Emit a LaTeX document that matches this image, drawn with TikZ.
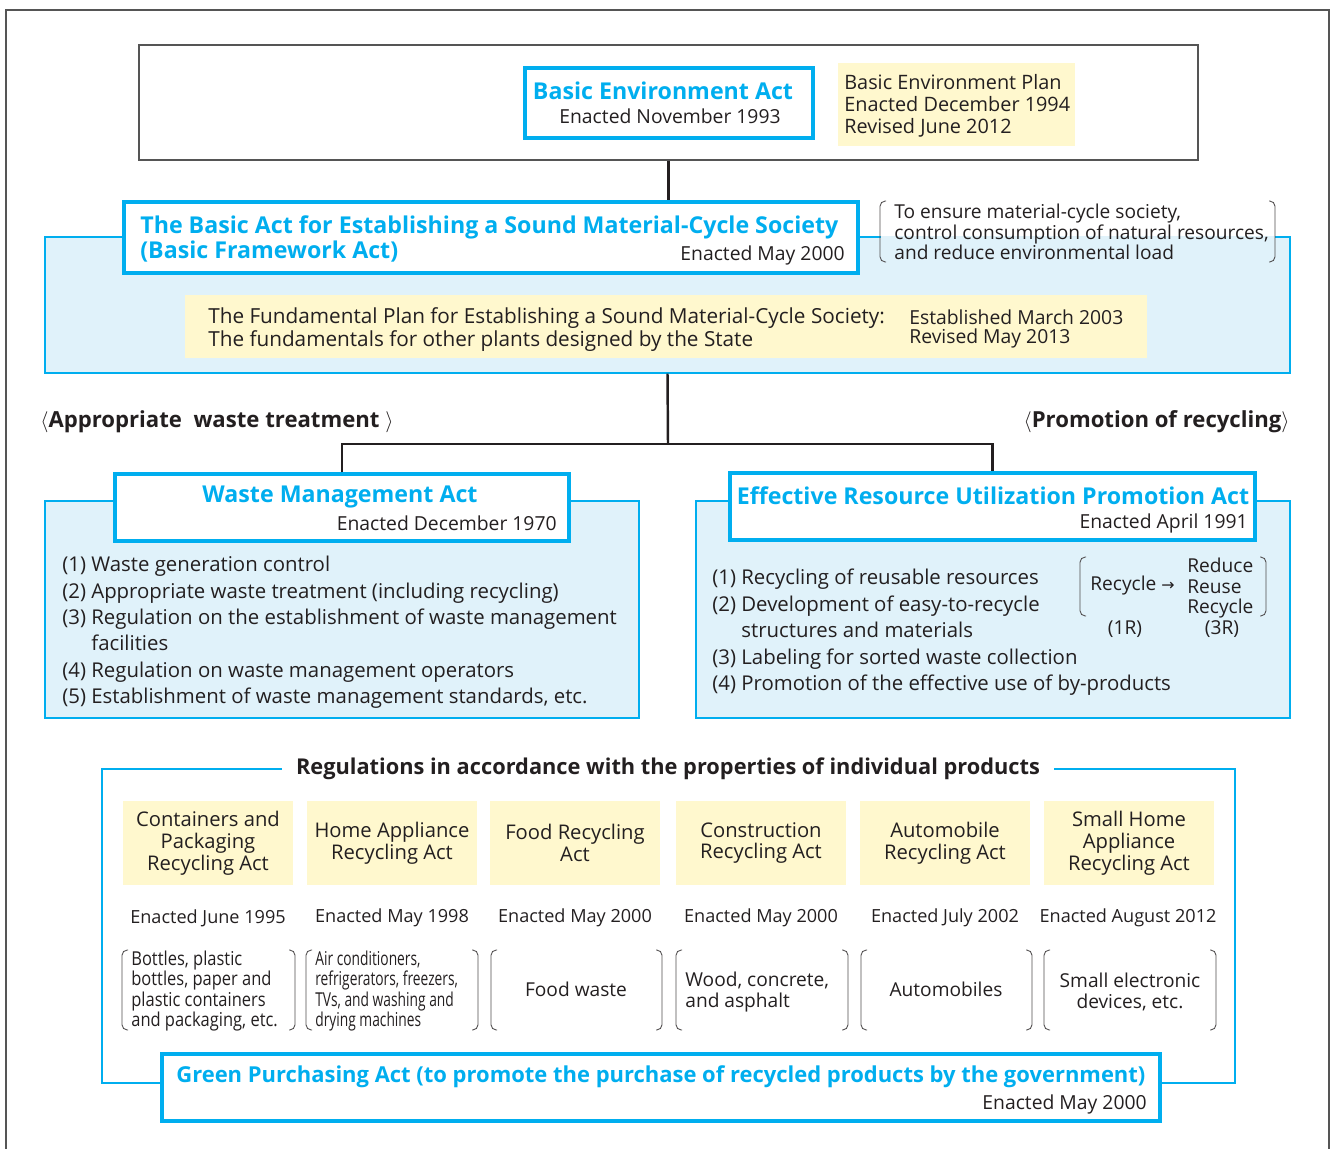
\documentclass[tikz,border=0pt]{standalone}
\usepackage{fontspec}
\setmainfont{Open Sans}
\newfontfamily\narrowa[FakeStretch=0.86]{Open Sans}
\newfontfamily\narrowb[FakeStretch=0.72]{Open Sans}
\newfontfamily\symfont{DejaVu Sans}
\usetikzlibrary{positioning,fit}
\definecolor{actcyan}{RGB}{0,174,239}
\definecolor{paleblue}{RGB}{224,242,250}
\definecolor{paleyellow}{RGB}{255,248,206}
\definecolor{inkblack}{RGB}{35,31,32}
\definecolor{framegrey}{RGB}{85,85,85}
\newcommand{\bodyfont}{\fontsize{11.6}{15}\selectfont}
\newcommand{\notefont}{\fontsize{10.9}{11.6}\selectfont}
\newcommand{\parens}[4]{%
  \draw[bracketline] (#1+6,#2) -- (#1,#2) -- (#1,#4) -- (#1+6,#4);
  \draw[bracketline] (#3-6,#2) -- (#3,#2) -- (#3,#4) -- (#3-6,#4);}
\tikzset{
  actbox/.style={draw=actcyan, line width=1.8pt, fill=white, inner sep=0pt},
  regionbox/.style={draw=actcyan, line width=0.6pt, fill=paleblue, inner sep=0pt},
  planbox/.style={fill=paleyellow, inner sep=0pt},
  acttitle/.style={text=actcyan, font=\fontsize{13.2}{14}\selectfont\bfseries, inner sep=0pt},
  plain/.style={text=inkblack, font=\bodyfont, inner sep=0pt, align=left},
  datefont/.style={text=inkblack, font=\fontsize{10.3}{12}\selectfont, inner sep=0pt},
  heading/.style={text=inkblack, font=\fontsize{12.6}{14}\selectfont\bfseries, inner sep=0pt},
  lawname/.style={text=inkblack, font=\fontsize{11.5}{12.5}\selectfont, inner sep=0pt, align=center},
  link/.style={draw=inkblack, line width=1.4pt},
  regline/.style={draw=actcyan, line width=0.6pt},
  bracketline/.style={draw=inkblack!80, line width=0.5pt, rounded corners=3pt},
}
\begin{document}
\begin{tikzpicture}[x=0.02cm, y=-0.02cm]
\useasboundingbox (0,0) rectangle (1335,1149);
\draw[framegrey, line width=0.7pt] (6,1149) -- (6,10) -- (1329,10) -- (1329,1149);

% basic environment act
\node[draw=framegrey, line width=0.7pt, inner sep=0pt, fit={(139,45) (1198,160)}] (envframe) {};
\node[actbox, fit={(525,68) (813,138)}] (envact) {};
\node[acttitle] (envacttitle) at (663,91) {Basic Environment Act};
\node[plain, font=\fontsize{11}{13}\selectfont] (envactdate) at (670,116) {Enacted November 1993};
\node[planbox, fit={(838,63) (1075,146)}] (envplan) {};
\node[plain, anchor=north west, font=\fontsize{11.3}{12.5}\selectfont] (envplantext) at (844,74)
  {Basic Environment Plan\\Enacted December 1994\\Revised June 2012};

% material-cycle society
\node[regionbox, fit={(45,237) (1290,373)}] (cyclereg) {};
\node[actbox, fit={(124,202) (858,273)}] (basicact) {};
\draw[link] (envframe.south) -- (envframe.south |- basicact.north);
\node[acttitle, anchor=west] (basictitle) at (140,227) {The Basic Act for Establishing a Sound Material-Cycle Society};
\node[acttitle, anchor=west] (basicsub) at (140,252) {(Basic Framework Act)};
\node[plain, anchor=east, font=\fontsize{11}{13}\selectfont] (basicdate) at (845,255) {Enacted May 2000};
\fill[paleblue] (880.5,236) rectangle (1274.5,238.5);
\parens{880}{201}{1275}{262}
\node[plain, anchor=north west, font=\notefont] (basicaim) at (894,204)
  {To ensure material-cycle society,\\control consumption of natural resources,\\and reduce environmental load};
\node[planbox, fit={(185,295) (1147,358)}] (fundplan) {};
\node[plain, anchor=west, font=\fontsize{11.8}{14}\selectfont] (fundtitle) at (208,318) {The Fundamental Plan for Establishing a Sound Material-Cycle Society:};
\node[plain, anchor=west, font=\fontsize{11.8}{14}\selectfont] (fundsub) at (208,341) {The fundamentals for other plants designed by the State};
\node[plain, anchor=west, font=\fontsize{11}{13}\selectfont] (fundest) at (909,317) {Established March 2003};
\node[plain, anchor=west, font=\fontsize{11}{13}\selectfont] (fundrev) at (909,338) {Revised May 2013};

% two branches
\node[heading, anchor=west] (lefthead) at (40,422) {$\langle$Appropriate\ \ waste treatment $\rangle$};
\node[heading, anchor=east] (righthead) at (1290,422) {$\langle$Promotion of recycling$\rangle$};
\coordinate (fork) at (668,444);

\node[regionbox, fit={(45,501) (639,718)}] (wastereg) {};
\node[actbox, fit={(115,474) (569,541)}] (wasteact) {};
\node[acttitle] (wastetitle) at (340,497) {Waste Management Act};
\node[plain, anchor=east, font=\fontsize{11}{13}\selectfont] (wastedate) at (557,523) {Enacted December 1970};
\node[plain, anchor=north west] (wastelist) at (62,556)
  {(1) Waste generation control\\
   (2) Appropriate waste treatment (including recycling)\\
   (3) Regulation on the establishment of waste management\\
   \phantom{(3) }facilities\\
   (4) Regulation on waste management operators\\
   (5) Establishment of waste management standards, etc.};

\node[regionbox, fit={(696,501) (1290,718)}] (recyreg) {};
\node[actbox, fit={(730,473) (1255,540)}] (recyact) {};
\node[acttitle] (recytitle) at (993,496) {Effective Resource Utilization Promotion Act};
\node[plain, anchor=east, font=\fontsize{11}{13}\selectfont] (recydate) at (1248,523) {Enacted April 1991};
\node[plain, anchor=north west] (recylist) at (712,569)
  {(1) Recycling of reusable resources\\
   (2) Development of easy-to-recycle\\
   \phantom{(2) }structures and materials\\
   (3) Labeling for sorted waste collection\\
   (4) Promotion of the effective use of by-products};
\parens{1080}{557}{1266}{616}
\node[plain, anchor=west, font=\notefont] (onerule) at (1090,586) {Recycle {\symfont\fontsize{9}{10}\selectfont →}};
\node[plain, anchor=north west, font=\notefont] (threerule) at (1187,558) {Reduce\\Reuse\\Recycle};
\node[plain, font=\notefont] (onetag) at (1125,629) {(1R)};
\node[plain, font=\notefont] (threetag) at (1222,629) {(3R)};

\draw[link] (cyclereg.south) -- (fork);
\draw[link] (wasteact.north) |- (fork) -| (recyact.north);

% individual products
\node[heading, inner xsep=8pt, font=\fontsize{12.4}{14}\selectfont\bfseries] (regtitle) at (668,769) {Regulations in accordance with the properties of individual products};
\node[actbox, line width=2pt, fit={(162,1054) (1160,1121)}] (greenact) {};
\draw[regline] (regtitle.west) -| (102,1083) -- (greenact.west |- 0,1083);
\draw[regline] (regtitle.east) -| (1235,1083) -- (greenact.east |- 0,1083);

\node[planbox, fit={(123,801) (293,885)}] (contbox) {};
\node[lawname] (contname) at (contbox) {Containers and\\Packaging\\Recycling Act};
\node[datefont] (contdate) at (208,918) {Enacted June 1995};
\parens{122}{950}{295}{1030}
\node[plain, anchor=west, font=\narrowa\notefont] (contitems) at (131,991)
  {Bottles, plastic\\bottles, paper and\\plastic containers\\and packaging, etc.};

\node[planbox, fit={(307,801) (477,885)}] (homebox) {};
\node[lawname] (homename) at (homebox) {Home Appliance\\Recycling Act};
\node[datefont] (homedate) at (392,918) {Enacted May 1998};
\parens{306}{950}{478}{1030}
\node[plain, anchor=west, font=\narrowb\notefont] (homeitems) at (315,991)
  {Air conditioners,\\refrigerators, freezers,\\TVs, and washing and\\drying machines};

\node[planbox, fit={(490,801) (660,885)}] (foodbox) {};
\node[lawname] (foodname) at (foodbox) {Food Recycling\\Act};
\node[datefont] (fooddate) at (575,918) {Enacted May 2000};
\parens{491}{950}{662}{1030}
\node[plain, font=\notefont] (fooditems) at (576,989) {Food waste};

\node[planbox, fit={(676,801) (846,885)}] (consbox) {};
\node[lawname] (consname) at (consbox) {Construction\\Recycling Act};
\node[datefont] (consdate) at (761,918) {Enacted May 2000};
\parens{676}{950}{848}{1030}
\node[plain, anchor=west, font=\notefont] (consitems) at (685,992) {Wood, concrete,\\and asphalt};

\node[planbox, fit={(860,801) (1030,885)}] (autobox) {};
\node[lawname] (autoname) at (autobox) {Automobile\\Recycling Act};
\node[datefont] (autodate) at (945,918) {Enacted July 2002};
\parens{861}{950}{1032}{1030}
\node[plain, font=\notefont] (autoitems) at (946,989) {Automobiles};

\node[planbox, fit={(1044,801) (1214,885)}] (smallbox) {};
\node[lawname] (smallname) at (smallbox) {Small Home\\Appliance\\Recycling Act};
\node[datefont] (smalldate) at (1128,918) {Enacted August 2012};
\parens{1044}{950}{1216}{1030}
\node[plain, align=center, font=\notefont] (smallitems) at (1130,992) {Small electronic\\devices, etc.};

% green purchasing
\node[acttitle, anchor=west, font=\fontsize{12.5}{14}\selectfont\bfseries] (greentitle) at (176,1077) {Green Purchasing Act (to promote the purchase of recycled products by the government)};
\node[plain, anchor=east, font=\fontsize{11}{13}\selectfont] (greendate) at (1147,1104) {Enacted May 2000};
\end{tikzpicture}
\end{document}
